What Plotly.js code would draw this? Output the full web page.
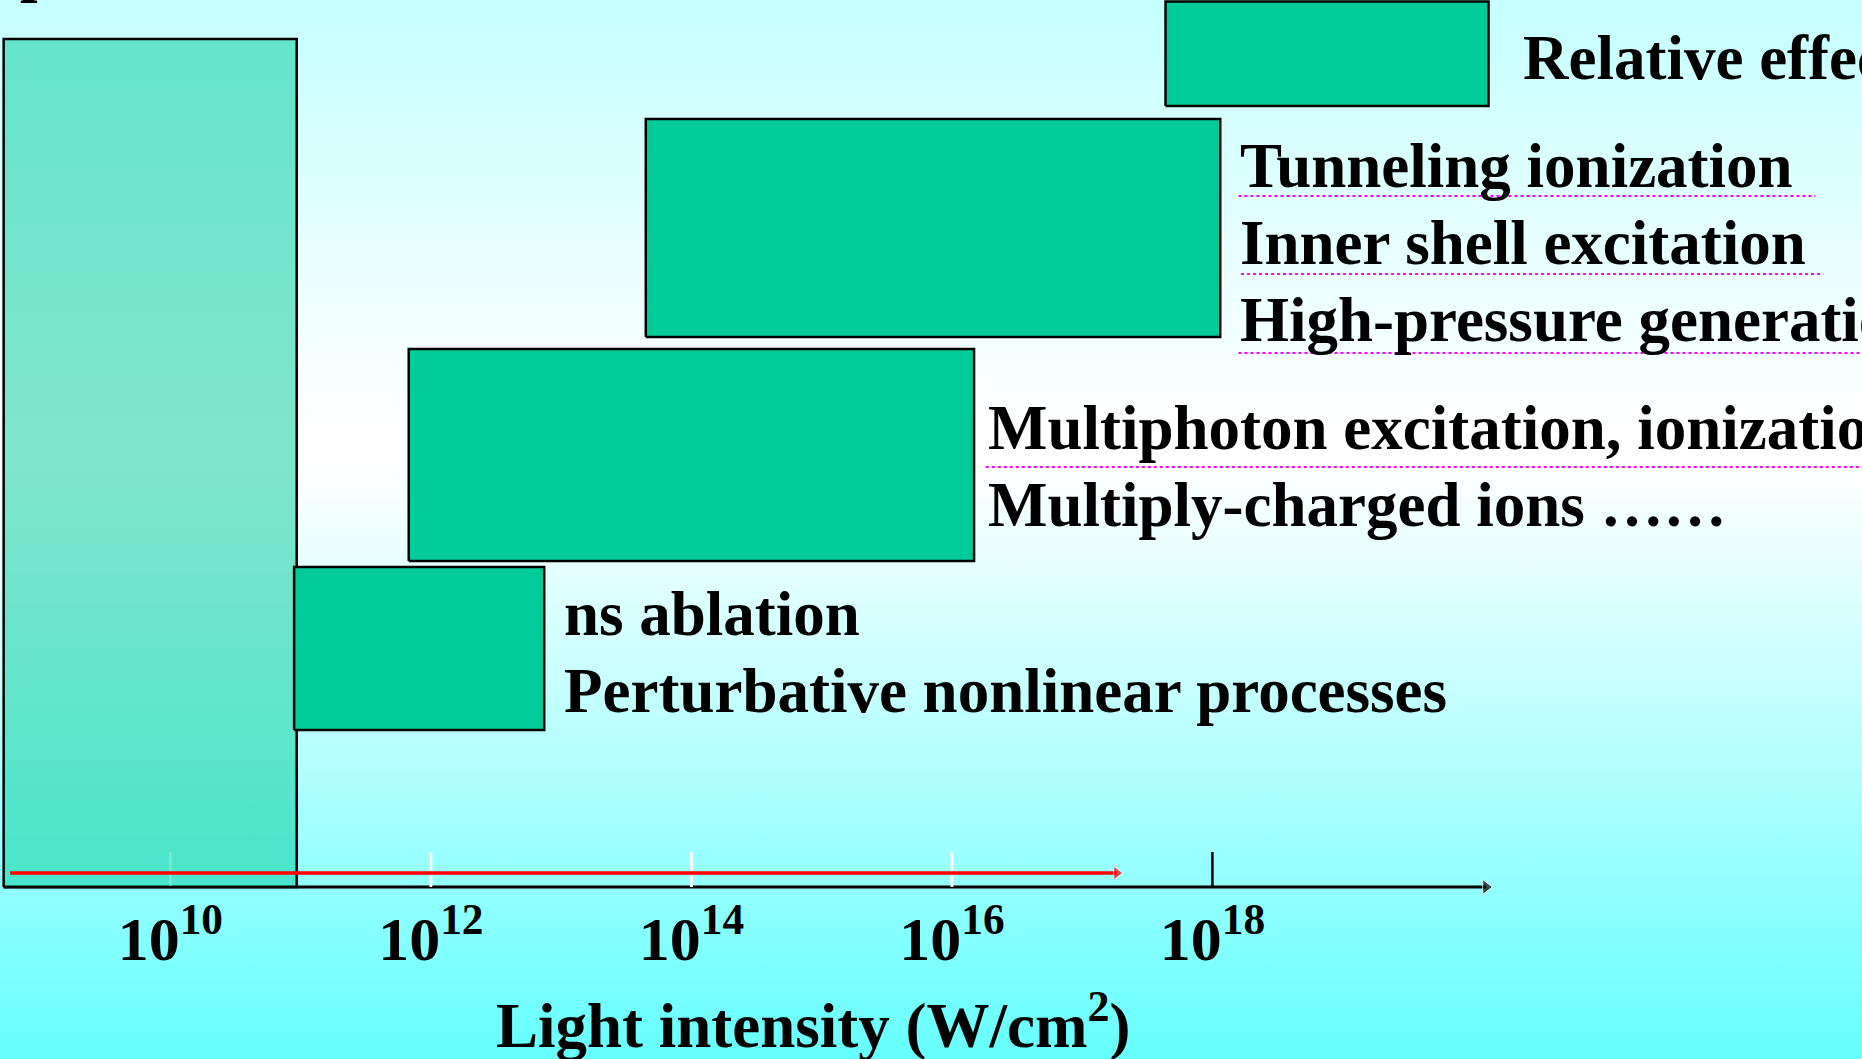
<!DOCTYPE html>
<html>
<head>
<meta charset="utf-8">
<script src="https://cdn.plot.ly/plotly-3.0.1.min.js"></script>
<style>
  html, body { margin: 0; padding: 0; overflow: hidden; }
  body {
    width: 1862px; height: 1059px;
    background: linear-gradient(to bottom, #C4FFFF 0%, #FFFFFF 40%, #FFFFFF 44%, #66FFFF 100%);
  }
  #chart { width: 1862px; height: 1059px; }
</style>
</head>
<body>
<div id="chart"></div>
<script>
// ---- data (x in log10 of light intensity, W/cm^2; y in arbitrary level units) ----
const tickExponents = [10, 12, 14, 16, 18];
const tickLabels = ['10<sup>10</sup>', '10<sup>12</sup>', '10<sup>14</sup>', '10<sup>16</sup>', '10<sup>18</sup>'];

const regionNames  = ['background', 'ns ablation', 'multiphoton', 'tunneling', 'relative'];
const regionLogMin = [8.72, 10.95, 11.83, 13.65, 17.64];
const regionLogMax = [10.97, 12.87, 16.17, 18.06, 20.12];
const regionLow    = [0, 157, 326, 550, 781];
const regionHigh   = [848, 320, 538, 768, 885.5];

const labelTexts = ['Relative effects', 'Tunneling ionization', 'Inner shell excitation',
  'High-pressure generation', 'Multiphoton excitation, ionization', 'Multiply-charged ions \u2026\u2026',
  'ns ablation', 'Perturbative nonlinear processes'];
const labelLogX = [20.37, 18.20, 18.20, 18.20, 16.26, 16.26, 13.01, 13.01];
const labelLevel = [829, 721, 644, 567, 459, 382, 273, 196];

const underlineFrom = [18.20, 18.22, 18.20, 16.26];
const underlineTo   = [22.63, 22.69, 22.99, 22.99];
const underlineLevel = [691, 613, 534, 420];

const axisArrowFrom = 8.72, axisArrowTo = 20.1;
const redArrowFrom = 8.77, redArrowTo = 17.265, redArrowLevel = 14;
const tickMarkHeight = 35;
const axisTitle = 'Light intensity (W/cm<sup>2</sup>)';

// ---- styles ----
const FONT = 'Liberation Serif, Times New Roman, serif';
const regionFills = ['rgba(0,204,153,0.5)', '#00CC99', '#00CC99', '#00CC99', '#00CC99'];
const noHover = { hoverinfo: 'skip', showlegend: false };

const traces = [];
// black axis arrow (drawn first, beneath ticks)
traces.push(Object.assign({
  type: 'scatter', mode: 'lines+markers',
  x: [axisArrowFrom, axisArrowTo], y: [0, 0],
  line: { color: '#000000', width: 3.2 },
  marker: { symbol: 'triangle-right', size: [0, 13], color: '#000000' },
  cliponaxis: false
}, noHover));
// white tick marks (10..16) and black one at 18
const whiteTicks = tickExponents.filter(v => v !== 18);
const tx = [], ty = [];
whiteTicks.forEach(v => { tx.push(v, v, null); ty.push(0, tickMarkHeight, null); });
traces.push(Object.assign({
  type: 'scatter', mode: 'lines', x: tx, y: ty,
  line: { color: '#FFFFFF', width: 2.8 }
}, noHover));
traces.push(Object.assign({
  type: 'scatter', mode: 'lines', x: [18, 18], y: [0, tickMarkHeight],
  line: { color: '#000000', width: 2.5 }
}, noHover));
// regions
regionNames.forEach((n, i) => {
  const x0 = regionLogMin[i], x1 = regionLogMax[i], y0 = regionLow[i], y1 = regionHigh[i];
  traces.push(Object.assign({
    type: 'scatter', mode: 'lines', name: n,
    x: [x0, x1, x1, x0, x0], y: [y0, y0, y1, y1, y0],
    fill: 'toself', fillcolor: regionFills[i],
    line: { color: '#000000', width: 2.5 }
  }, noHover));
});
// red arrow
traces.push(Object.assign({
  type: 'scatter', mode: 'lines+markers',
  x: [redArrowFrom, redArrowTo], y: [redArrowLevel, redArrowLevel],
  line: { color: '#FF0000', width: 3.5 },
  marker: { symbol: 'triangle-right', size: [0, 12], color: '#FF0000' },
  cliponaxis: false
}, noHover));

const textFont = { family: FONT, size: 63, color: '#000000', weight: 'bold' };
const annotations = labelTexts.map((t, i) => ({
  text: t, x: labelLogX[i], y: labelLevel[i], xref: 'x', yref: 'y',
  xanchor: 'left', yanchor: 'middle', showarrow: false, align: 'left',
  font: textFont
}));
annotations.push({
  text: axisTitle, x: 14.94, y: -0.1385, xref: 'x', yref: 'paper',
  xanchor: 'center', yanchor: 'middle', showarrow: false,
  font: textFont
});
annotations.push({
  text: 'p', x: 8.83, y: 882, xref: 'x', yref: 'y',
  xanchor: 'left', yanchor: 'bottom', showarrow: false,
  font: textFont
});

const shapes = underlineFrom.map((x0, i) => ({
  type: 'line', xref: 'x', yref: 'y', x0: x0, x1: underlineTo[i],
  y0: underlineLevel[i], y1: underlineLevel[i],
  line: { color: '#FF00FF', width: 2, dash: 'dot' }
}));

const layout = {
  width: 1862, height: 1059,
  margin: { l: 0, r: 0, t: 0, b: 162, pad: 0 },
  paper_bgcolor: 'rgba(0,0,0,0)', plot_bgcolor: 'rgba(0,0,0,0)',
  showlegend: false,
  xaxis: {
    range: [8.692, 22.987], showgrid: false, zeroline: false, showline: false,
    tickmode: 'array', tickvals: tickExponents, ticktext: tickLabels,
    ticks: '', ticklabelstandoff: 0,
    tickfont: { family: FONT, size: 62, color: '#000000', weight: 'bold' },
    fixedrange: true
  },
  yaxis: { range: [-10, 887], visible: false, fixedrange: true },
  annotations: annotations,
  shapes: shapes
};

Plotly.newPlot('chart', traces, layout, { staticPlot: true, displayModeBar: false });
</script>
</body>
</html>
